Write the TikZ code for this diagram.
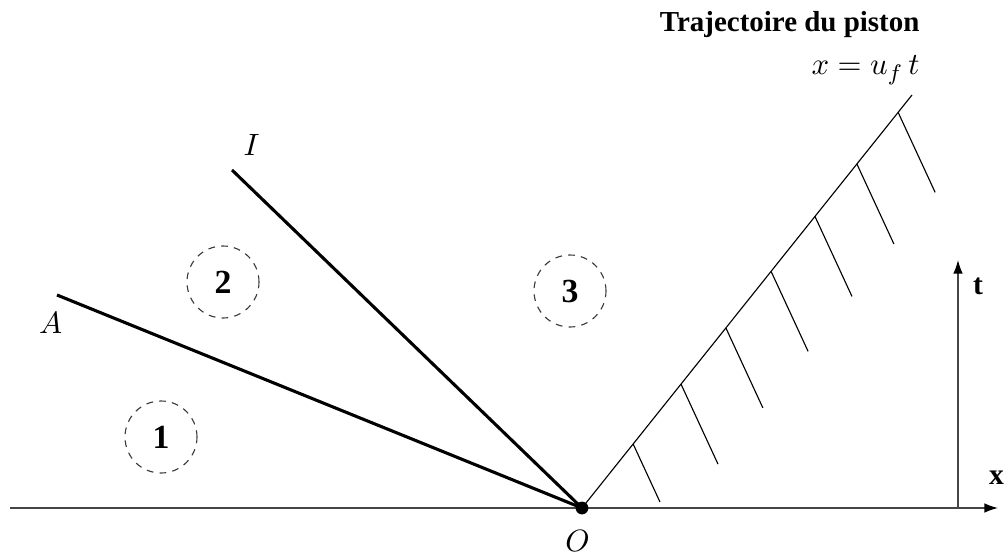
\documentclass[tikz,border=0pt]{standalone}
\usepackage{fontspec}
\setmainfont{Liberation Serif}
\definecolor{axisgray}{RGB}{70, 70, 70}
\definecolor{zonegray}{RGB}{60, 60, 60}
\usepackage{tikz}
\usetikzlibrary{shapes, arrows.meta, positioning, calc}
\usepackage{amsmath, amssymb}

\begin{document}
\begin{tikzpicture}[
    axis/.style={draw=axisgray, line width=0.5pt, -{Latex[length=1.7mm, width=1.2mm, black]}},
    wave/.style={draw=black, line width=1.1pt},
    piston/.style={draw=black, line width=0.4pt},
    zone/.style={circle, draw=zonegray, dash pattern=on 2.4pt off 2.2pt, line width=0.4pt, minimum size=0.9cm, inner sep=0pt, font=\fontsize{12}{14}\selectfont\bfseries},
    lbl/.style={inner sep=0pt, font=\fontsize{11.4}{13}\selectfont},
    axlbl/.style={inner sep=0pt, font=\fontsize{10.5}{12}\selectfont\bfseries},
    title/.style={inner sep=0pt, font=\fontsize{10.3}{12}\selectfont\bfseries}
  ]
  \useasboundingbox (-7.275,-0.575) rectangle (5.3125,6.35);

  % points
  \coordinate (O) at (0,0);
  \coordinate (A) at (-6.5625,2.6625);
  \coordinate (I) at (-4.375,4.225);
  \coordinate (P) at (4.125,5.1625);
  \coordinate (xl) at (-7.15,0);
  \coordinate (xr) at (5.2,0);
  \coordinate (t0) at (4.7,0);
  \coordinate (t1) at (4.7,3.1);

  % axes
  \draw[axis] (xl) -- (xr);
  \draw[axis] (t0) -- (t1);
  \node[axlbl] (xlab) at (5.18,0.381) {x};
  \node[axlbl] (tlab) at (4.95,2.769) {t};

  % waves
  \draw[wave] (O) -- (A);
  \draw[wave] (O) -- (I);
  \node[lbl] (Alab) at (-6.64,2.319) {$A$};
  \node[lbl] (Ilab) at (-4.131,4.5375) {$I$};

  % piston
  \draw[piston] (O) -- (P);
  \foreach \s/\l in {0.155/0.725, 0.3/1, 0.436/1, 0.573/1, 0.706/1, 0.833/1, 0.958/1}
    \draw[piston] ($(O)!\s!(P)$) -- ++({0.4625*\l},{-\l});
  \node[title, anchor=base east] (title) at (4.225,5.95) {Trajectoire du piston};
  \node[lbl, anchor=base east] (law) at (4.225,5.4125) {$x = u_f\,t$};

  % zones
  \node[zone] (z1) at (-5.2625,0.8875) {1};
  \node[zone] (z2) at (-4.4875,2.825) {2};
  \node[zone] (z3) at (-0.15,2.7125) {3};

  \fill (O) circle (0.08);
  \node[lbl] (Olab) at (-0.056,-0.406) {$O$};
\end{tikzpicture}
\end{document}
